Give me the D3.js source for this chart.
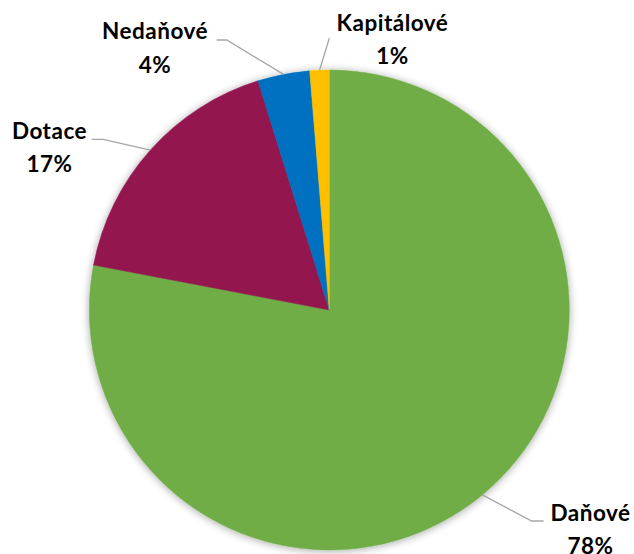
<!DOCTYPE html>
<html>
<head>
<meta charset="utf-8">
<script src="https://cdn.jsdelivr.net/npm/d3@7"></script>
<style>
  html, body { margin: 0; padding: 0; background: #ffffff; }
  svg { display: block; }
</style>
</head>
<body>
<svg id="chart" width="634" height="554"></svg>
<script>
// ---- data ----
const categories = ["Daňové", "Dotace", "Nedaňové", "Kapitálové"];
const values = [78.0, 17.2, 3.5, 1.3];
const percentLabels = ["78%", "17%", "4%", "1%"];
const colors = ["#70ad47", "#931650", "#0070c0", "#ffc000"];

// ---- layout (positions of labels, not data) ----
const W = 634, H = 554;
const cx = 329.3, cy = 310, R = 240;
// label centre x, first-line baseline y, leader elbow, leader end (absolute page px)
const labelLayout = [
  { tx: 590.5, ty: 520.5, elbow: [531.7, 521], end: [543.5, 521] },
  { tx: 49.5,  ty: 138.5, elbow: [103.3, 139.3], end: [91.7, 139.3] },
  { tx: 155,   ty: 39.3,  elbow: [226.7, 40],  end: [216.7, 40] },
  { tx: 392.5, ty: 31,    elbow: null,         end: [329.3, 38.3] }
];

const svg = d3.select("#chart");
const defs = svg.append("defs");
const f = defs.append("filter").attr("id", "shadow")
  .attr("x", "-10%").attr("y", "-10%").attr("width", "120%").attr("height", "120%");
f.append("feGaussianBlur").attr("in", "SourceAlpha").attr("stdDeviation", 4).attr("result", "blur");
f.append("feOffset").attr("in", "blur").attr("dx", 0).attr("dy", 1).attr("result", "off");
f.append("feComponentTransfer").attr("in", "off").attr("result", "sh")
  .append("feFuncA").attr("type", "linear").attr("slope", 0.35);
const fm = f.append("feMerge");
fm.append("feMergeNode").attr("in", "sh");
fm.append("feMergeNode").attr("in", "SourceGraphic");

const data = categories.map((c, i) => ({ name: c, value: values[i], pct: percentLabels[i], color: colors[i], i }));

const pie = d3.pie().value(d => d.value).sort(null);
const arcs = pie(data);
const arc = d3.arc().innerRadius(0).outerRadius(R);

const g = svg.append("g").attr("transform", `translate(${cx},${cy})`);
g.append("g").attr("filter", "url(#shadow)")
  .selectAll("path").data(arcs).enter().append("path")
  .attr("d", arc)
  .attr("fill", d => d.data.color)
  .attr("stroke", d => d.data.color)
  .attr("stroke-width", 0.5);

// leader lines from arc midpoint
const lines = svg.append("g");
arcs.forEach((a, i) => {
  const mid = (a.startAngle + a.endAngle) / 2;
  const p0 = [cx + R * Math.sin(mid), cy - R * Math.cos(mid)];
  const L = labelLayout[i];
  const pts = [p0];
  if (L.elbow) pts.push(L.elbow);
  pts.push(L.end);
  lines.append("path")
    .attr("d", d3.line()(pts))
    .attr("fill", "none")
    .attr("stroke", "#a6a6a6")
    .attr("stroke-width", 1.3);
});

// labels
const labels = svg.append("g")
  .attr("font-family", "Lato, 'Open Sans', sans-serif")
  .attr("font-weight", "bold")
  .attr("font-size", 22.5)
  .attr("letter-spacing", 0.5)
  .attr("fill", "#000")
  .attr("text-anchor", "middle");
data.forEach((d, i) => {
  const L = labelLayout[i];
  const t = labels.append("text").attr("x", L.tx).attr("y", L.ty);
  t.append("tspan").attr("x", L.tx).text(d.name);
  t.append("tspan").attr("x", L.tx).attr("dy", 33.3).text(d.pct);
});
</script>
</body>
</html>
